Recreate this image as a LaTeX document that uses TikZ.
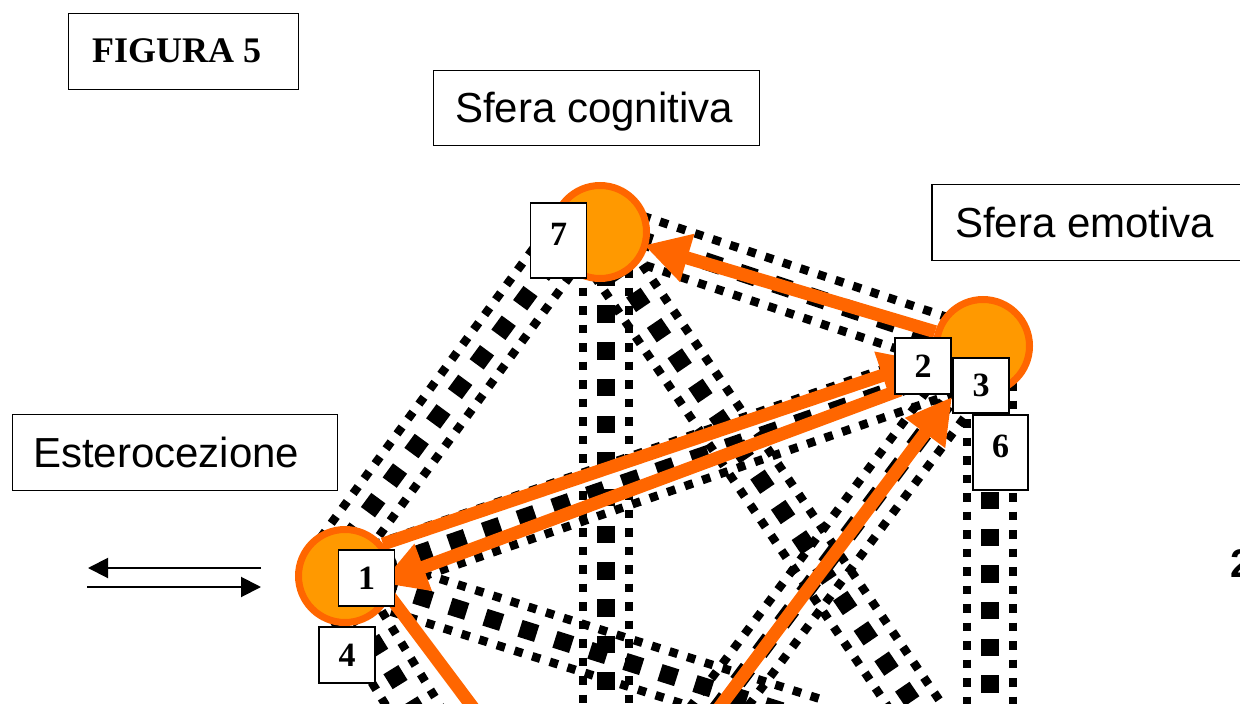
\documentclass[tikz,border=0pt]{standalone}
\usepackage{fontspec}
\setmainfont{Liberation Sans}
\newfontfamily\timesf{Liberation Serif}
\usetikzlibrary{calc,arrows.meta}
\definecolor{orfill}{HTML}{FF9900}
\definecolor{ordraw}{HTML}{FF6600}
\newcommand\tubeline[2]{%
  \draw[pipemid] (#1) -- (#2);
  \draw[pipeside] ($(#1)!23pt!90:(#2)$) -- ($(#2)!23pt!-90:(#1)$);
  \draw[pipeside] ($(#1)!23pt!-90:(#2)$) -- ($(#2)!23pt!90:(#1)$);
}
\tikzset{
  pipeside/.style={black, line width=8.5pt, dash pattern=on 8.5pt off 10pt},
  pipemid/.style={black, line width=17.5pt, dash pattern=on 17.5pt off 19.2pt},
  orline/.style={draw=ordraw, line width=13pt},
  orarrow/.style={orline, -{Triangle[length=45pt,width=47pt]}},
  sphere/.style={circle, minimum size=93pt, inner sep=0pt, fill=orfill, draw=ordraw, line width=7pt},
  numbox/.style={draw, fill=white, line width=1.8pt, minimum width=56pt, minimum height=56pt, inner sep=0pt,
    font=\timesf\bfseries\fontsize{34}{34}\selectfont},
  tallbox/.style={numbox, minimum height=75pt, text depth=12pt},
  labelbox/.style={draw, fill=white, line width=1.5pt, inner sep=0pt},
  labeltext/.style={font=\fontsize{42}{42}\selectfont, inner sep=0pt, anchor=base west},
  thinarrow/.style={line width=2pt, -{Triangle[length=20pt,width=20pt]}}
}
\begin{document}
\begin{tikzpicture}[x=1pt,y=-1pt]
\useasboundingbox (0,0) rectangle (1240,704);
% sphere centres
\coordinate (k7) at (600,232);
\coordinate (k3) at (983,346);
\coordinate (k1) at (345,576);
% pipe end points
\coordinate (pA1) at (574,232); \coordinate (pA2) at (321,576);
\coordinate (pB1) at (606,232); \coordinate (pB2) at (606,720);
\coordinate (pC1) at (592,232); \coordinate (pC2) at (925,720);
\coordinate (pK1) at (600,226); \coordinate (pK2) at (985,354);
\coordinate (pG1) at (345,579); \coordinate (pG2) at (983,359);
\coordinate (pD1) at (990,345); \coordinate (pD2) at (709,720);
\coordinate (pE1) at (345,573); \coordinate (pE2) at (820,723);
\coordinate (pF1) at (333,576); \coordinate (pF2) at (422,720);
\coordinate (pH1) at (990,345); \coordinate (pH2) at (990,720);
% pipes
\tubeline{pA1}{pA2}
\tubeline{pB1}{pB2}
\tubeline{pC1}{pC2}
\tubeline{pK1}{pK2}
\tubeline{pG1}{pG2}
\tubeline{pD1}{pD2}
\tubeline{pE1}{pE2}
\tubeline{pF1}{pF2}
\tubeline{pH1}{pH2}
% spheres
\node[sphere] (c7) at (k7) {};
\node[sphere] (c3) at (k3) {};
\node[sphere] (c1) at (k1) {};
% orange arrows
\coordinate (o2s) at (383,544); \coordinate (o2e) at (925,361);
\coordinate (o3s) at (900,390); \coordinate (o3e) at (381,583);
\coordinate (o4s) at (710,720); \coordinate (o4e) at (952,397);
\coordinate (o5s) at (385,590); \coordinate (o5e) at (486,725);
\draw[orarrow, shorten >=-4pt] (c3) -- (c7);
\draw[orarrow] (o2s) -- (o2e);
\draw[orarrow] (o3s) -- (o3e);
\draw[orarrow] (o4s) -- (o4e);
\draw[orline] (o5s) -- (o5e);
% number boxes
\node[tallbox] (b7) at (558.5,240.5) {7};
\node[numbox] (b2) at (923,366) {2};
\node[numbox, minimum height=55pt] (b3) at (981,385.5) {3};
\node[tallbox, minimum width=55pt] (b6) at (1000.5,452.5) {6};
\node[numbox] (b1) at (366.5,578) {1};
\node[numbox] (b4) at (347,655) {4};
% label boxes
\node[labelbox, minimum width=230pt, minimum height=76pt] (figbox) at (183.5,51.5) {};
\node[font=\timesf\bfseries\fontsize{36}{36}\selectfont, inner sep=0pt, anchor=base west] (figtxt) at (92,62) {FIGURA 5};
\node[labelbox, minimum width=326pt, minimum height=75pt] (cogbox) at (596.5,108) {};
\node[labeltext] (cogtxt) at (455,122) {Sfera cognitiva};
\node[labelbox, minimum width=330pt, minimum height=76pt] (emobox) at (1097,222.5) {};
\node[labeltext] (emotxt) at (955,237) {Sfera emotiva};
\node[labelbox, minimum width=325pt, minimum height=76pt] (estbox) at (175,452.5) {};
\node[labeltext] (esttxt) at (33,467) {Esterocezione};
% exteroception arrows
\coordinate (la1) at (261,568); \coordinate (la2) at (88,568);
\coordinate (lb1) at (87,587); \coordinate (lb2) at (261,587);
\draw[thinarrow] (la1) -- (la2);
\draw[thinarrow] (lb1) -- (lb2);
% label cut off at the right edge, as in the reference
\node[font=\bfseries\fontsize{40}{40}\selectfont, inner sep=0pt, anchor=base west] (edge2) at (1230,577) {2};
\end{tikzpicture}
\end{document}
